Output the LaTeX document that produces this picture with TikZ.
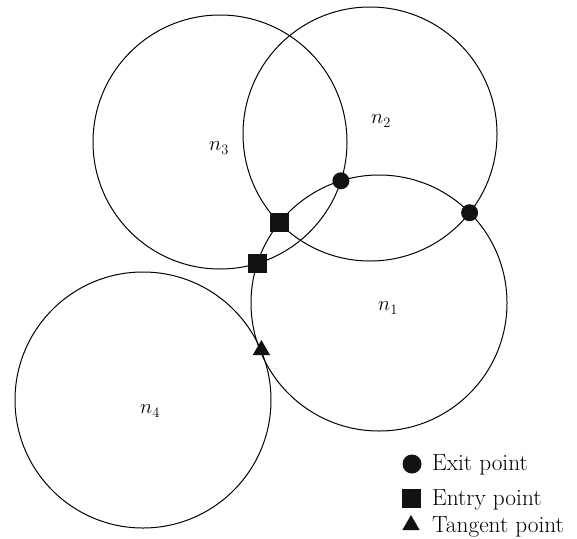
\documentclass[tikz,border=0pt]{standalone}
\usetikzlibrary{shapes.geometric}
\begin{document}
\begin{tikzpicture}[x=1pt,y=-1pt,
  region/.style={circle,draw,line width=1pt,minimum size=#1,inner sep=0pt},
  exitpt/.style={circle,fill=black!93,minimum size=17pt,inner sep=0pt},
  entrypt/.style={rectangle,fill=black!93,minimum size=19pt,inner sep=0pt},
  tangpt/.style={regular polygon,regular polygon sides=3,fill=black!93,minimum size=20pt,inner sep=0pt},
  lab/.style={font=\fontsize{20}{24}\selectfont,inner sep=0pt},
  legtext/.style={font=\fontsize{23.3}{28}\selectfont,anchor=base west,inner sep=0pt}]
\useasboundingbox (0,0) rectangle (577,538);
% regions
\node[region=256pt] (c1) at (379,303) {};
\node[region=254pt] (c2) at (370,134) {};
\node[region=254pt] (c3) at (220,142) {};
\node[region=256pt] (c4) at (143,400) {};
% labels
\node[lab] (l1) at (388,308) {$n_1$};
\node[lab] (l2) at (381,121) {$n_2$};
\node[lab] (l3) at (219,148) {$n_3$};
\node[lab] (l4) at (150,411) {$n_4$};
% points
\node[exitpt] (x12) at (469.6,212.7) {};
\node[entrypt] (e12) at (279.3,222.8) {};
\node[exitpt] (x13) at (340.9,180.8) {};
\node[entrypt] (e13) at (257.3,263.4) {};
\node[tangpt] (t14) at (261.4,350) {};
% legend
\node[exitpt,minimum size=19pt] (kx) at (412,464) {};
\node[entrypt] (ke) at (411,498) {};
\node[tangpt] (kt) at (411,525) {};
\node[legtext] (kxt) at (432,470) {Exit point};
\node[legtext] (ket) at (432,505) {Entry point};
\node[legtext] (ktt) at (432,532) {Tangent point};
\end{tikzpicture}
\end{document}
